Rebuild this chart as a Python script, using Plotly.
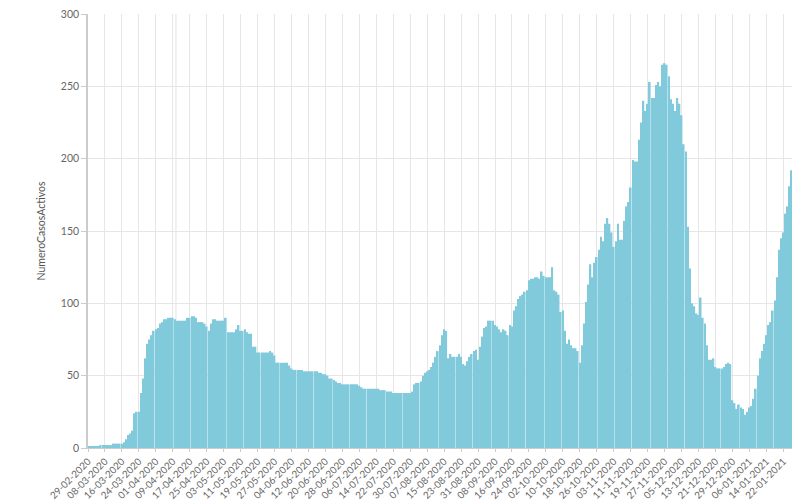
import pandas as pd
import plotly.graph_objects as go

start_date = "2020-02-29"
activos = [
    1, 1, 1, 1, 1, 1, 2, 2, 2, 2, 2, 2, 3, 3, 3, 3, 3, 4, 6, 9,
    10, 12, 24, 25, 25, 38, 48, 62, 72, 75,
    78, 81, 82, 83, 86, 87, 89, 89, 90, 90,
    90, 89, 88, 88, 88, 88, 88, 90, 90, 91,
    91, 90, 87, 87, 87, 86, 84, 81, 86, 89,
    89, 88, 88, 88, 88, 90, 80, 80, 80, 80,
    82, 85, 81, 81, 82, 80, 79, 79, 70, 70,
    66, 66, 66, 66, 66, 66, 67, 66, 64, 59,
    59, 59, 59, 59, 59, 57, 55, 54, 54, 54,
    54, 54, 53, 53, 53, 53, 53, 53, 53, 52,
    52, 51, 51, 50, 48, 48, 47, 46, 45, 45,
    44, 44, 44, 44, 44, 44, 44, 44, 43, 42,
    41, 41, 41, 41, 41, 41, 41, 41, 40, 40,
    40, 39, 39, 39, 38, 38, 38, 38, 38, 38,
    38, 38, 38, 39, 44, 45, 45, 46, 50, 52,
    53, 54, 56, 59, 63, 67, 71, 78, 82, 81,
    62, 65, 63, 63, 63, 65, 63, 58, 57, 60,
    63, 65, 67, 68, 61, 70, 77, 83, 84, 88,
    88, 88, 85, 84, 82, 80, 82, 81, 78, 85,
    84, 95, 98, 103, 105, 106, 108, 109, 116, 117,
    117, 118, 118, 117, 122, 119, 118, 118, 118, 125,
    109, 108, 106, 94, 95, 81, 72, 75, 71, 69,
    69, 67, 59, 71, 86, 101, 113, 127, 118, 128,
    132, 137, 146, 143, 155, 159, 155, 149, 139, 143,
    155, 144, 144, 157, 167, 170, 180, 199, 198, 198,
    213, 225, 240, 233, 238, 253, 242, 242, 251, 253,
    250, 265, 266, 265, 257, 241, 238, 233, 242, 238,
    230, 210, 205, 153, 124, 100, 98, 93, 92, 104,
    90, 86, 71, 61, 61, 62, 56, 55, 55, 55,
    56, 58, 59, 58, 33, 31, 27, 30, 28, 27,
    23, 25, 28, 29, 34, 41, 50, 62, 67, 72,
    78, 85, 87, 95, 102, 118, 137, 145, 149, 162,
    167, 181, 192,
]
fechas = pd.date_range(start_date, periods=len(activos), freq="D")
y_title = "NumeroCasosActivos"
y_ticks = [0, 50, 100, 150, 200, 250, 300]

fig = go.Figure()
fig.add_trace(go.Bar(
    x=fechas, y=activos,
    marker=dict(color="#80cadb", line=dict(width=0)),
    hoverinfo="x+y",
))

font_family = "Lato, 'Open Sans', sans-serif"
# the page body has an 8px margin, so the figure is sized/offset to compensate
fig.update_layout(
    width=787, height=492,
    margin=dict(l=80, r=0, t=6, b=52),
    plot_bgcolor="white", paper_bgcolor="white",
    bargap=0.22,
    showlegend=False,
    font=dict(family=font_family, size=11, color="#666666"),
    shapes=[dict(type="line", xref="x", yref="paper",
                 x0="2020-04-10 12:00", x1="2020-04-10 12:00", y0=0, y1=1,
                 line=dict(color="#e3e3e3", width=1), layer="below")],
)
fig.update_xaxes(
    type="date",
    range=["2020-02-29", "2021-01-27 12:00"],
    tick0="2020-02-29", dtick=8 * 86400000,
    tickformat="%d-%m-%Y", tickangle=-45,
    tickfont=dict(size=9.8, color="#666666"),
    showgrid=True, gridcolor="#e6e6e6", gridwidth=1,
    showline=True, linecolor="#cccccc", linewidth=1,
    ticks="outside", ticklen=3, tickcolor="#cccccc",
    zeroline=False, automargin=False, ticklabeloverflow="allow",
)
fig.update_yaxes(
    range=[0, 300], tickvals=y_ticks,
    tickfont=dict(size=10.5, color="#666666"),
    showgrid=True, gridcolor="#e6e6e6", gridwidth=1,
    showline=True, linecolor="#cccccc", linewidth=1.5,
    ticks="outside", ticklen=5, tickcolor="#cccccc",
    zeroline=False, automargin=False, ticklabeloverflow="allow",
    title=dict(text=y_title, font=dict(size=10.5, color="#555555"), standoff=13),
)
fig.write_html("out.html")
